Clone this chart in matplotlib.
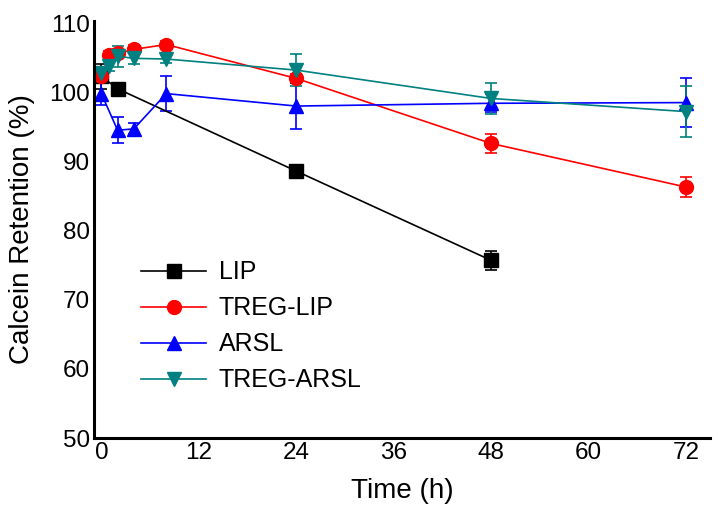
import matplotlib.pyplot as plt

plt.rcParams['font.family'] = ['Liberation Sans', 'DejaVu Sans']

# time points (h)
t_lip = [0, 2, 24, 48]
t_other = [0, 1, 2, 4, 8, 24, 48, 72]
t_arsl = [0, 2, 4, 8, 24, 48, 72]

# calcein retention (%) and error
lip = [102.3, 100.5, 88.6, 75.7]
lip_err = [1.8, 0.6, 0.6, 1.4]
treg_lip = [102.4, 105.4, 105.6, 106.2, 106.9, 102.0, 92.6, 86.3]
treg_lip_err = [0.8, 0.6, 0.6, 0.6, 0.5, 0.7, 1.35, 1.45]
arsl = [99.8, 94.5, 94.7, 99.8, 98.0, 98.4, 98.5]
arsl_err = [1.6, 1.9, 0.8, 2.5, 3.3, 1.3, 3.5]
treg_arsl = [102.8, 103.8, 105.2, 104.9, 104.8, 103.2, 99.1, 97.2]
treg_arsl_err = [0.8, 0.8, 1.5, 0.8, 0.6, 2.3, 2.2, 3.7]

fig = plt.figure(figsize=(7.18, 5.12), dpi=100)
ax = fig.add_axes([0.131, 0.1445, 0.858, 0.8145])

series = [
    (t_lip, lip, lip_err, 'black', 's', 'LIP'),
    (t_other, treg_lip, treg_lip_err, 'red', 'o', 'TREG-LIP'),
    (t_arsl, arsl, arsl_err, 'blue', '^', 'ARSL'),
    (t_other, treg_arsl, treg_arsl_err, '#008080', 'v', 'TREG-ARSL'),
]
handles, labels = [], []
for t, v, e, c, m, lab in series:
    cont = ax.errorbar(t, v, yerr=e, color=c, marker=m, markersize=10, lw=1.2,
                       capsize=4, elinewidth=1.2, capthick=1.2)
    handles.append(cont[0])
    labels.append(lab)

ax.set_xlim(-0.9, 75)
ax.set_ylim(50, 110.3)
ax.set_xticks([0, 12, 24, 36, 48, 60, 72])
ax.set_yticks([50, 60, 70, 80, 90, 100, 110])
ax.tick_params(length=0, labelsize=17.5, pad=3)
for s in ['top', 'right']:
    ax.spines[s].set_visible(False)
for s in ['left', 'bottom']:
    ax.spines[s].set_linewidth(2.2)

ax.set_xlabel('Time (h)', fontsize=20, labelpad=10)
ax.set_ylabel('Calcein Retention (%)', fontsize=20, labelpad=10)

ax.legend(handles, labels, loc='upper left', bbox_to_anchor=(0.04, 0.48),
          frameon=False, fontsize=18, handlelength=2.6, labelspacing=0.48,
          handletextpad=0.5)

fig.savefig('out.png', dpi=100)
